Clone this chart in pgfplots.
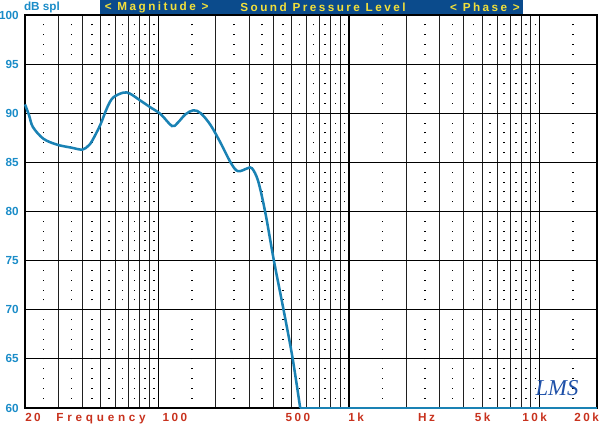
\documentclass[border=0pt]{standalone}
\usepackage{fontspec}
\setmainfont{Liberation Sans}
\newfontfamily\logofont{Liberation Serif}
\usepackage{pgfplots}
\pgfplotsset{compat=1.18}
\definecolor{curve}{HTML}{1A82B4}
\definecolor{hdrblue}{HTML}{0B4B8C}
\definecolor{hdryel}{HTML}{F2E03A}
\definecolor{lblblue}{HTML}{1A8CC8}
\definecolor{lblred}{HTML}{C8321E}
\definecolor{logoblue}{HTML}{1E50A8}
\newcommand{\lblfont}{\bfseries\fontsize{8.8}{9}\selectfont}
\begin{document}
\begin{tikzpicture}[x=1pt,y=1pt]
\useasboundingbox (0,0) rectangle (450,318.75);
\fill[hdrblue] (75,307.5) rectangle (392.25,318.75);
\node[text=hdryel, font=\lblfont\addfontfeatures{LetterSpace=21}] at (117.5,313.1) {< Magnitude >};
\node[text=hdryel, font=\lblfont\addfontfeatures{LetterSpace=21}] at (242.25,313.1) {Sound Pressure Level};
\node[text=hdryel, font=\lblfont\addfontfeatures{LetterSpace=21}] at (363.75,313.1) {< Phase >};
\node[text=lblblue, font=\lblfont] at (31.5,313.3) {dB spl};
\begin{axis}[
  at={(18.75pt,12.75pt)}, anchor=south west,
  width=429pt, height=294.75pt, scale only axis,
  xmode=log, xmin=20, xmax=20000, ymin=60, ymax=100,
  xtick={100,1000,10000}, xticklabels={},
  minor xtick={30,40,50,60,70,80,90,200,300,400,500,600,700,800,900,2000,3000,4000,5000,6000,7000,8000,9000},
  ytick={60,65,70,75,80,85,90,95,100},
  /pgf/number format/assume math mode=true,
  major tick length=0pt, minor tick length=0pt,
  xmajorgrids, xminorgrids, ymajorgrids,
  x grid style={black, line width=1.1pt},
  minor x grid style={black!88, line width=0.75pt},
  y grid style={black, line width=0.75pt},
  extra x ticks={25,35,45,55,65,75,85,95,150,250,350,450,550,650,750,850,950,1500,2500,3500,4500,5500,6500,7500,8500,9500,15000},
  extra x tick labels={},
  extra x tick style={major grid style={black!45, line width=0.75pt, dash pattern=on 0.75pt off 6.619pt, dash phase=0.375pt}},
  axis line style={line width=2pt, black},
  yticklabel style={font=\lblfont, text=lblblue, inner sep=0pt, xshift=-4.5pt},
  clip=false,
]
\addplot[curve, line width=1.9pt, smooth, tension=0.55] coordinates {
(20,90.9) (21,89.8) (22,88.6) (25,87.4) (29.5,86.8) (35,86.5) (40,86.3)
(43,86.7) (45,87.2) (49.6,88.8) (54,90.6) (58,91.6) (65.6,92.1) (71,92.0)
(80.4,91.3) (91,90.6) (103,89.9) (118,88.7) (126,89.0) (139,89.9) (153,90.3)
(167,90.0) (188,88.8) (212,87.0) (241,84.9) (262,84.1) (294,84.4) (310,84.4)
(334,83.1) (365,79.8) (404,75.0) (455,69.9) (506,65.1) (555,60)
};
\addplot[curve, line width=1.9pt] coordinates {(555,60) (20000,60)};
\begin{scope}[every node/.style={text=lblred, anchor=base, yshift=-10pt, inner sep=0pt}]
\node[font=\lblfont\addfontfeatures{LetterSpace=21}] at (rel axis cs:0.014,0) {20};
\node[font=\lblfont\addfontfeatures{LetterSpace=32}] at (rel axis cs:0.133,0) {Frequency};
\node[font=\lblfont\addfontfeatures{LetterSpace=21}] at (rel axis cs:0.262,0) {100};
\node[font=\lblfont\addfontfeatures{LetterSpace=21}] at (rel axis cs:0.477,0) {500};
\node[font=\lblfont\addfontfeatures{LetterSpace=21}] at (rel axis cs:0.579,0) {1k};
\node[font=\lblfont\addfontfeatures{LetterSpace=21}] at (rel axis cs:0.702,0) {Hz};
\node[font=\lblfont\addfontfeatures{LetterSpace=21}] at (rel axis cs:0.800,0) {5k};
\node[font=\lblfont\addfontfeatures{LetterSpace=21}] at (rel axis cs:0.891,0) {10k};
\node[font=\lblfont\addfontfeatures{LetterSpace=21}] at (rel axis cs:0.982,0) {20k};
\end{scope}
\node[text=logoblue, font=\logofont\itshape\fontsize{17}{17}\selectfont] at (rel axis cs:0.93,0.05) {LMS};
\end{axis}
\end{tikzpicture}
\end{document}
